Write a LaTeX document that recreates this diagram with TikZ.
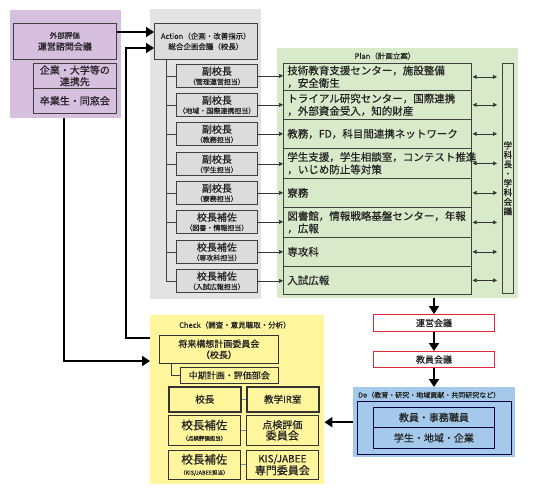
\documentclass[tikz,border=0pt]{standalone}
\usepackage{fontspec}
\setmainfont{Noto Sans CJK JP}[FakeBold=0.4]
\usetikzlibrary{arrows.meta}
\definecolor{pur}{HTML}{D7BFE0}
\definecolor{gry}{HTML}{E3E3E3}
\definecolor{gbox}{HTML}{DCDCDC}
\definecolor{grn}{HTML}{D9EACA}
\definecolor{yel}{HTML}{FFF59C}
\definecolor{blu}{HTML}{A4C9EA}
\definecolor{redb}{HTML}{E0283C}
\definecolor{lnk}{HTML}{6F8FAF}
\definecolor{txt}{HTML}{222222}
\newcommand\fsz[2]{\fontsize{#1}{#2}\selectfont}
\newcommand\bx[7]{\node[#6,anchor=north west,minimum width={#4-#2},minimum height={#5-#3}] (#1) at (#2,#3) {#7};}
\tikzset{
  x=1pt,y=-1pt,
  panel/.style={draw=none,inner sep=0pt},
  pbox/.style={draw=black!75,line width=0.7pt,fill=pur,inner sep=0pt,align=center,text=txt,font=\fsz{10}{11.5}},
  gbx/.style={draw=black!75,line width=0.7pt,fill=gbox,inner sep=0pt,align=center,text=txt,font=\fsz{7}{9.5}},
  rowbox/.style={draw=black!75,line width=0.7pt,inner ysep=0pt,inner xsep=4pt,text width=180pt,align=left,text=txt,font=\fsz{10.5}{12.5}},
  vbox/.style={draw=black!75,line width=0.7pt,inner sep=0pt,align=center,text=txt,font=\fsz{8.6}{9.4}},
  rbox/.style={draw=redb,line width=1pt,fill=white,inner sep=0pt,align=center,text=txt,font=\fsz{9}{11}},
  dframe/.style={draw=black!75!blue,line width=0.8pt,inner sep=0pt},
  dbx/.style={draw=black!75!blue,line width=0.8pt,inner sep=0pt,align=center,text=txt,font=\fsz{10}{12}},
  ybx/.style={draw=black!80,line width=0.7pt,fill=yel,inner sep=0pt,align=center,text=txt,font=\fsz{9}{11}},
  ttl/.style={inner sep=0pt,text=txt,font=\fsz{7.5}{9}},
  big/.style={line width=2.3pt,-{Triangle[length=8pt,width=10pt]}},
  thinarr/.style={line width=0.6pt,black!80,-{Triangle[length=4pt,width=4pt]}},
  dbl/.style={line width=0.6pt,black!80,{Triangle[length=4pt,width=4pt]}-{Triangle[length=4pt,width=4pt]}},
  tree/.style={line width=0.7pt,black!75},
  lk/.style={line width=0.8pt,lnk},
}
\begin{document}
\begin{tikzpicture}
\useasboundingbox (0,0) rectangle (551,493);
% panels
\bx{pp}{10}{10}{121}{118}{panel,fill=pur}{}
\bx{gp}{150}{9}{261}{299}{panel,fill=gry}{}
\bx{gn}{277}{48}{518}{298}{panel,fill=grn}{}
\bx{yp}{150}{315}{324}{484}{panel,fill=yel}{}
\bx{dp}{353}{387}{515}{457}{panel,fill=blu}{}
% purple boxes
\bx{pa}{13}{23}{116}{59}{pbox}{{\fsz{7.5}{10}外部評価}\\{\fsz{9}{11}運営諮問会議}}
\bx{pb}{33}{63}{116}{88}{pbox}{企業・大学等の\\連携先}
\bx{pc}{33}{88}{116}{113}{pbox}{卒業生・同窓会}
% action
\bx{act}{154}{23}{257}{59}{gbx,font=\fsz{7.5}{10.5}}{Action（企画・改善指示）\\総合企画会議（校長）}
\bx{g1}{176}{64}{257}{87}{gbx}{{\fsz{10}{10}副校長}\\（管理運営担当）}
\bx{g2}{176}{93}{257}{116}{gbx}{{\fsz{10}{10}副校長}\\（地域・国際連携担当）}
\bx{g3}{176}{122}{257}{145}{gbx}{{\fsz{10}{10}副校長}\\（教務担当）}
\bx{g4}{176}{152}{257}{175}{gbx}{{\fsz{10}{10}副校長}\\（学生担当）}
\bx{g5}{176}{181}{257}{204}{gbx}{{\fsz{10}{10}副校長}\\（寮務担当）}
\bx{g6}{176}{210}{257}{233}{gbx}{{\fsz{10}{10}校長補佐}\\（図書・情報担当）}
\bx{g7}{176}{240}{257}{263}{gbx}{{\fsz{10}{10}校長補佐}\\（専攻科担当）}
\bx{g8}{176}{269}{257}{292}{gbx}{{\fsz{10}{10}校長補佐}\\（入試広報担当）}
\draw[tree] ([xshift=12pt]act.south west) |- (g8.west);
\foreach \i in {1,...,7} {\draw[tree] (g\i.west) -- ++(-10,0);}
% plan
\node[ttl] (plant) at (385,56) {Plan（計画立案）};
\bx{r1}{283}{63}{471}{90}{rowbox}{技術教育支援センター，施設整備\\，安全衛生}
\bx{r2}{283}{90}{471}{119}{rowbox}{トライアル研究センター，国際連携\\，外部資金受入，知的財産}
\bx{r3}{283}{119}{471}{148}{rowbox}{教務，FD，科目間連携ネットワーク}
\bx{r4}{283}{148}{471}{178}{rowbox}{学生支援，学生相談室，コンテスト推進\\，いじめ防止等対策}
\bx{r5}{283}{178}{471}{207}{rowbox}{寮務}
\bx{r6}{283}{207}{471}{237}{rowbox}{図書館，情報戦略基盤センター，年報\\，広報}
\bx{r7}{283}{237}{471}{266}{rowbox}{専攻科}
\bx{r8}{283}{266}{471}{294}{rowbox}{入試広報}
\bx{vb}{502}{63}{513}{293}{vbox}{学\\科\\長\\・\\学\\科\\会\\議}
\foreach \i in {1,...,8} {
  \draw[thinarr] (g\i.east) -- (g\i.east -| r\i.west);
  \draw[dbl,shorten >=5pt,shorten <=1pt] (r\i.east) -- (r\i.east -| vb.west);
}
% meetings
\bx{m1}{373}{314}{494}{331}{rbox}{運営会議}
\bx{m2}{373}{351}{494}{367}{rbox}{教員会議}
% do
\node[ttl,anchor=west,font=\fsz{7}{9}] (dot) at (358,395) {Do（教育・研究・地域貢献・共同研究など）};
\bx{di}{357}{401}{511}{454}{dframe}{}
\bx{d1}{373}{407}{494}{427}{dbx}{教員・事務職員}
\bx{d2}{373}{427}{494}{448}{dbx}{学生・地域・企業}
% check
\node[ttl] (chkt) at (235,325) {Check（調査・意見聴取・分析）};
\bx{c1}{159}{335}{278}{363}{ybx}{将来構想計画委員会\\（校長）}
\bx{c2}{180}{367}{278}{383}{ybx}{中期計画・評価部会}
\bx{c3}{168}{386}{240}{411}{ybx,line width=1.5pt,font=\fsz{9.5}{11}}{校長}
\bx{c4}{246}{386}{318}{411}{ybx,line width=1.5pt,font=\fsz{9.5}{11}}{教学IR室}
\bx{c5}{168}{415}{240}{445}{ybx}{{\fsz{11.5}{12}校長補佐}\\{\fsz{5.5}{7}（点検評価担当）}}
\bx{c6}{246}{415}{318}{445}{ybx}{{\fsz{10}{12}点検評価}\\{\fsz{11}{13}委員会}}
\bx{c7}{168}{450}{240}{479}{ybx}{{\fsz{11.5}{12}校長補佐}\\{\fsz{5.5}{7}（KIS/JABEE担当）}}
\bx{c8}{246}{450}{318}{479}{ybx}{{\fsz{10}{12}KIS/JABEE}\\{\fsz{11}{13}専門委員会}}
\draw[tree] ([xshift=12pt]c1.south west) |- (c2.west);
\draw[lk] (c3.east) -- (c4.west);
\draw[lk] (c5.east) -- (c6.west);
\draw[lk] (c7.east) -- (c8.west);
% big arrows
\draw[big] ([yshift=-9pt]pa.north east) -- ([yshift=-9pt]pa.north east -| act.west);
\draw[big] ([yshift=-23pt]yp.north west) -| ([xshift=-28pt,yshift=-25pt]act.north west) -- ([yshift=-25pt]act.north west);
\draw[big] ([xshift=-1.5pt]pp.south) |- ([yshift=-46pt]yp.north west);
\draw[big] (dp.west) -- (dp.west -| yp.east);
\draw[big] (m1.north |- gn.south) -- (m1.north);
\draw[big] (m1.south) -- (m2.north);
\draw[big] (m2.south) -- (m2.south |- dp.north);
\end{tikzpicture}
\end{document}
